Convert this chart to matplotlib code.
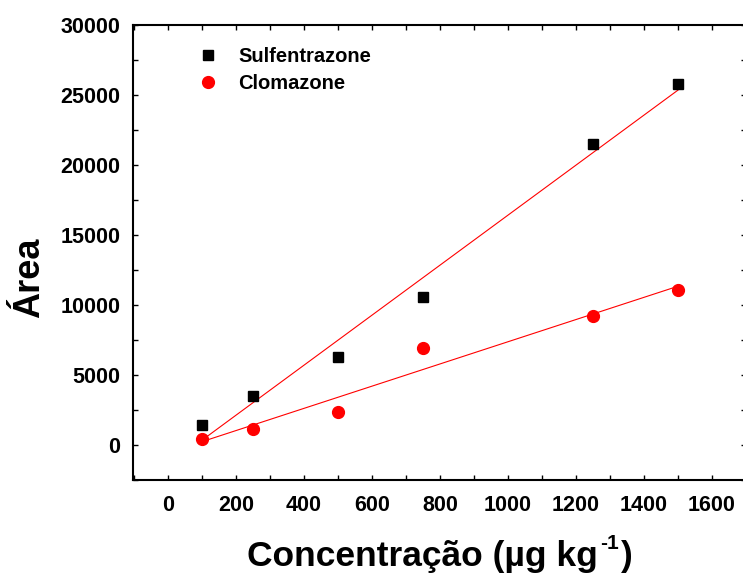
import numpy as np
import matplotlib
matplotlib.use("Agg")
import matplotlib.pyplot as plt
from matplotlib.ticker import MultipleLocator

plt.rcParams['font.family'] = ['Liberation Sans', 'DejaVu Sans']
plt.rcParams['font.weight'] = 'bold'

conc = [100, 250, 500, 750, 1250, 1500]
sulfentrazone = [1400, 3500, 6300, 10600, 21500, 25800]
clomazone = [450, 1150, 2350, 6950, 9200, 11100]
series_names = ["Sulfentrazone", "Clomazone"]

W, H = 743, 576
fig = plt.figure(figsize=(W / 100, H / 100), dpi=100)
ax = fig.add_axes([133/W, 1 - 480/H, 613/W, (480 - 25.3)/H])

x = np.array(conc, dtype=float)
for ys in (sulfentrazone, clomazone):
    m, b = np.polyfit(x, np.array(ys, dtype=float), 1)
    xx = np.array([x.min(), x.max()])
    ax.plot(xx, m * xx + b, color='red', lw=0.8, zorder=2)

ax.plot(conc, sulfentrazone, 's', color='black', ms=7.5, ls='none',
        label=series_names[0], zorder=3)
ax.plot(conc, clomazone, 'o', color='red', ms=8.5, ls='none',
        label=series_names[1], zorder=3)

ax.set_xlim(-103, 1700)
ax.set_ylim(-2500, 30000)
ax.xaxis.set_major_locator(MultipleLocator(200))
ax.xaxis.set_minor_locator(MultipleLocator(100))
ax.yaxis.set_major_locator(MultipleLocator(5000))
ax.yaxis.set_minor_locator(MultipleLocator(2500))
ax.tick_params(which='both', direction='in', top=True, right=True, length=3.5, width=1)
ax.tick_params(axis='x', which='major', pad=11, labelsize=15.5)
ax.tick_params(axis='y', which='major', pad=9, labelsize=15.5)
for lab in ax.get_xticklabels() + ax.get_yticklabels():
    lab.set_fontweight('bold')
for s in ax.spines.values():
    s.set_linewidth(1.5)
ax.spines['right'].set_visible(False)

# x label: main part, superscript "-1", closing parenthesis
fig.canvas.draw()
renderer = fig.canvas.get_renderer()
base_y = 1 - 566/H
t1 = fig.text(247/W, base_y, 'Concentração (µg kg', fontsize=25.5,
              fontweight='bold', ha='left', va='baseline')
bb1 = t1.get_window_extent(renderer)
t2 = fig.text((bb1.x1 + 2)/W, 1 - 549/H, '-1', fontsize=15,
              fontweight='bold', ha='left', va='baseline')
bb2 = t2.get_window_extent(renderer)
t3 = fig.text((bb2.x1 + 2)/W, base_y, ')', fontsize=25.5,
              fontweight='bold', ha='left', va='baseline')

fig.text(30/W, 1 - 278/H, 'Área', fontsize=26, fontweight='bold',
         rotation=90, ha='center', va='center')

leg = ax.legend(loc='upper left', bbox_to_anchor=(198/W, 1 - 47/H),
                bbox_transform=fig.transFigure, frameon=False, borderpad=0,
                borderaxespad=0, handlelength=1.0, handletextpad=1.0,
                labelspacing=0.4, prop={'size': 14.5, 'weight': 'bold'})

fig.savefig('out.png', dpi=100)
